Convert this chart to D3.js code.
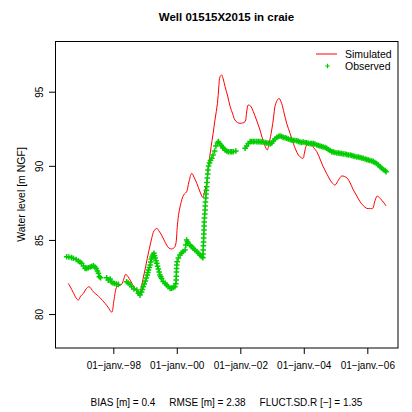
<!DOCTYPE html>
<html>
<head>
<meta charset="utf-8">
<script src="https://cdn.jsdelivr.net/npm/d3@7"></script>
<style>
  body { margin: 0; background: #fff; }
  svg { display: block; }
  text { font-family: "Liberation Sans", Arial, Helvetica, sans-serif; fill: #000; }
</style>
</head>
<body>
<div id="chart"></div>
<script>
// simulated head (decimal year, m NGF)
const simYear = [1996.58, 1996.65, 1996.73, 1996.83, 1996.90, 1996.97, 1997.06, 1997.14, 1997.24, 1997.37,
  1997.49, 1997.58, 1997.74, 1997.83, 1997.95, 1998.02, 1998.11, 1998.18, 1998.26, 1998.33,
  1998.39, 1998.46, 1998.53, 1998.60, 1998.68, 1998.76, 1998.82, 1998.88, 1998.94, 1999.01,
  1999.07, 1999.14, 1999.21, 1999.28, 1999.37, 1999.44, 1999.52, 1999.60, 1999.68, 1999.75,
  1999.84, 1999.94, 2000.02, 2000.07, 2000.19, 2000.24, 2000.31, 2000.38, 2000.47, 2000.54,
  2000.63, 2000.72, 2000.82, 2000.87, 2000.94, 2001.00, 2001.08, 2001.14, 2001.20, 2001.28,
  2001.32, 2001.36, 2001.41, 2001.46, 2001.52, 2001.60, 2001.68, 2001.76, 2001.83, 2001.91,
  2001.99, 2002.07, 2002.15, 2002.20, 2002.25, 2002.32, 2002.41, 2002.51, 2002.62, 2002.71,
  2002.81, 2002.85, 2002.91, 2002.99, 2003.05, 2003.09, 2003.16, 2003.22, 2003.30, 2003.38,
  2003.46, 2003.57, 2003.67, 2003.75, 2003.83, 2003.91, 2003.98, 2004.02, 2004.09, 2004.17,
  2004.25, 2004.32, 2004.41, 2004.51, 2004.61, 2004.72, 2004.83, 2004.91, 2004.98, 2005.09,
  2005.19, 2005.28, 2005.37, 2005.46, 2005.56, 2005.67, 2005.77, 2005.87, 2005.98, 2006.08,
  2006.17, 2006.23, 2006.31, 2006.38, 2006.45, 2006.53, 2006.59];
const simLevel = [82.07, 81.82, 81.48, 81.08, 80.94, 81.21, 81.40, 81.69, 81.84, 81.50,
  81.28, 81.10, 80.72, 80.47, 80.13, 80.94, 81.84, 81.92, 82.00, 82.36,
  82.68, 82.53, 82.29, 82.02, 81.73, 81.48, 81.28, 81.75, 82.41, 83.10,
  83.76, 84.45, 85.11, 85.60, 85.78, 85.60, 85.33, 84.99, 84.66, 84.45,
  84.39, 84.54, 86.01, 86.88, 87.92, 88.10, 88.25, 88.91, 89.49, 89.24,
  88.82, 88.30, 87.87, 88.23, 88.82, 90.05, 91.29, 92.15, 93.09, 94.22,
  95.25, 96.01, 96.13, 95.86, 95.34, 94.71, 93.99, 93.50, 93.09, 92.92,
  92.87, 92.89, 92.98, 93.63, 94.10, 94.04, 93.65, 93.09, 92.42, 91.74,
  91.18, 91.07, 91.54, 92.42, 93.29, 93.99, 94.41, 94.55, 94.22, 93.56,
  92.87, 92.18, 91.52, 91.07, 90.73, 90.56, 90.51, 90.86, 91.40, 91.47,
  91.40, 91.20, 90.95, 90.46, 89.94, 89.48, 89.04, 88.81, 88.70, 89.04,
  89.31, 89.28, 89.16, 88.84, 88.37, 87.96, 87.58, 87.32, 87.13, 87.12,
  87.13, 87.56, 87.96, 87.86, 87.69, 87.49, 87.29];

// observed head (decimal year, m NGF)
const obsYear = [1996.53, 1996.60, 1996.68, 1996.74, 1996.83, 1996.90, 1996.95, 1997.00, 1997.06, 1997.11,
  1997.16, 1997.21, 1997.27, 1997.32, 1997.37, 1997.42, 1997.46, 1997.50, 1997.53, 1997.56,
  1997.60, 1997.79, 1997.84, 1997.90, 1997.94, 1997.99, 1998.04, 1998.10, 1998.16,
  1998.42, 1998.47, 1998.53, 1998.58, 1998.65, 1998.74, 1998.79, 1998.84, 1998.89, 1998.915,
  1998.94, 1998.975, 1999.01, 1999.04, 1999.07, 1999.09, 1999.11, 1999.135, 1999.16, 1999.18,
  1999.20, 1999.22, 1999.24, 1999.28, 1999.30, 1999.32, 1999.345, 1999.37, 1999.395, 1999.42,
  1999.445, 1999.47, 1999.495, 1999.52, 1999.57, 1999.63, 1999.68, 1999.73, 1999.79, 1999.84,
  1999.89, 1999.94, 1999.97, 1999.98, 1999.985, 1999.99, 1999.995, 2000.00, 2000.01, 2000.05,
  2000.10, 2000.15, 2000.20, 2000.26, 2000.285, 2000.31, 2000.335, 2000.36, 2000.42, 2000.47,
  2000.52, 2000.57, 2000.63, 2000.68, 2000.73, 2000.78, 2000.82, 2000.825, 2000.83, 2000.835,
  2000.84, 2000.845, 2000.85, 2000.855, 2000.86, 2000.865, 2000.87, 2000.88, 2000.89, 2000.895,
  2000.90, 2000.91, 2000.92, 2000.93, 2000.94, 2000.95, 2000.96, 2000.97, 2000.98, 2001.00,
  2001.03, 2001.06, 2001.10, 2001.14, 2001.19, 2001.23, 2001.28, 2001.31, 2001.35, 2001.40,
  2001.44, 2001.46, 2001.52, 2001.57, 2001.62, 2001.68, 2001.73, 2001.78, 2001.86,
  2002.15, 2002.20, 2002.25, 2002.31, 2002.36, 2002.41, 2002.46, 2002.52, 2002.57, 2002.62,
  2002.67, 2002.72, 2002.78, 2002.83, 2002.88, 2002.94, 2002.99, 2003.04, 2003.09, 2003.15,
  2003.20, 2003.25, 2003.30, 2003.35, 2003.41, 2003.46, 2003.51, 2003.57, 2003.62, 2003.67,
  2003.72, 2003.78, 2003.83, 2003.88, 2003.93, 2003.98, 2004.04, 2004.09, 2004.14, 2004.20,
  2004.25, 2004.30, 2004.35, 2004.41, 2004.46, 2004.51, 2004.56, 2004.61, 2004.67, 2004.72,
  2004.77, 2004.83, 2004.88, 2004.93, 2004.98, 2005.04, 2005.09, 2005.14, 2005.19, 2005.24,
  2005.30, 2005.35, 2005.40, 2005.46, 2005.51, 2005.56, 2005.61, 2005.67, 2005.72, 2005.77,
  2005.82, 2005.87, 2005.93, 2005.98, 2006.03, 2006.08, 2006.14, 2006.19, 2006.24, 2006.29,
  2006.35, 2006.40, 2006.45, 2006.50, 2006.56, 2006.59];
const obsLevel = [83.87, 83.85, 83.81, 83.76, 83.68, 83.58, 83.51, 83.42, 83.24, 83.08,
  83.08, 83.12, 83.17, 83.21, 83.26, 83.17, 83.08, 82.90, 82.75, 82.52,
  82.45, 82.45, 82.29, 82.36, 82.16, 82.09, 82.06, 82.02, 82.00,
  82.18, 82.09, 81.99, 81.84, 81.69, 81.62, 81.40, 81.28, 81.48, 81.66,
  81.84, 82.03, 82.23, 82.43, 82.63, 82.80, 82.97, 83.14, 83.31, 83.51,
  83.71, 83.85, 83.98, 84.10, 83.94, 83.78, 83.60, 83.42, 83.23, 83.04,
  82.84, 82.63, 82.51, 82.40, 82.19, 82.07, 81.96, 81.86, 81.73, 81.75,
  81.79, 81.84, 82.05, 82.29, 82.55, 82.83, 83.07, 83.31, 83.53, 83.78,
  83.98, 84.12, 84.22, 84.32, 84.65, 84.99, 84.88, 84.77, 84.62, 84.55,
  84.43, 84.32, 84.22, 84.10, 83.98, 83.88, 83.80, 84.05, 84.32, 84.60,
  84.86, 85.13, 85.40, 85.67, 85.94, 86.21, 86.48, 86.75, 87.02, 87.29,
  87.56, 87.83, 88.10, 88.35, 88.59, 88.88, 89.18, 89.45, 89.72, 89.99,
  90.19, 90.36, 90.51, 90.73, 91.00, 91.34, 91.54, 91.63, 91.51, 91.37,
  91.27, 91.18, 91.07, 91.00, 90.95, 90.95, 90.95, 90.95, 91.00,
  91.18, 91.34, 91.50, 91.63, 91.64, 91.63, 91.64, 91.63, 91.63, 91.63,
  91.61, 91.61, 91.57, 91.54, 91.52, 91.47, 91.54, 91.67, 91.81, 91.91,
  91.98, 92.01, 91.98, 91.92, 91.89, 91.86, 91.81, 91.77, 91.74, 91.71,
  91.71, 91.69, 91.65, 91.61, 91.57, 91.61, 91.57, 91.56, 91.52, 91.50,
  91.50, 91.50, 91.47, 91.40, 91.37, 91.34, 91.30, 91.27, 91.24, 91.18,
  91.10, 91.03, 90.95, 90.93, 90.90, 90.86, 90.86, 90.84, 90.83, 90.80,
  90.80, 90.76, 90.73, 90.73, 90.70, 90.66, 90.63, 90.59, 90.59, 90.56,
  90.53, 90.51, 90.46, 90.43, 90.39, 90.36, 90.32, 90.28, 90.22, 90.16,
  90.05, 89.94, 89.85, 89.75, 89.68, 89.60];

// axis limits and labels
const xLimits = [1996.164, 2006.967];
const yLimits = [77.71, 98.42];
const yTicks = [80, 85, 90, 95];
const titleText = "Well 01515X2015 in craie";
const yTitle = "Water level [m NGF]";
const legendLabels = ["Simulated", "Observed"];
const scoreText = "BIAS [m] = 0.4     RMSE [m] = 2.38     FLUCT.SD.R [\u2212] = 1.35";

// decimal year -> Date
function toDate(t) {
  const y = Math.floor(t);
  const a = new Date(y, 0, 1), b = new Date(y + 1, 0, 1);
  return new Date(a.getTime() + (t - y) * (b - a));
}

const margin = {top: 41, right: 14, bottom: 64, left: 55},
  width = 412 - margin.left - margin.right,
  height = 412 - margin.top - margin.bottom;

const svg = d3.select("#chart")
  .append("svg")
    .attr("width", 412)
    .attr("height", 412);

const g = svg.append("g")
  .attr("transform", "translate(" + margin.left + "," + margin.top + ")");

const x = d3.scaleTime()
  .domain(xLimits.map(toDate))
  .range([0, width]);

const y = d3.scaleLinear()
  .domain(yLimits)
  .range([height, 0]);

// x axis
const fmtYear = d3.timeFormat("%y");
const xAxis = g.append("g")
  .attr("transform", "translate(0," + height + ")")
  .call(d3.axisBottom(x)
    .ticks(d3.timeYear.every(2))
    .tickSize(6)
    .tickFormat(d => "01\u2212janv.\u2212" + fmtYear(d)));
xAxis.select(".domain").remove();
xAxis.selectAll(".tick line").attr("stroke", "#000");
xAxis.selectAll(".tick text")
  .attr("y", 14)
  .attr("dy", "0.71em")
  .style("font-size", "10px")
  .style("font-family", "'Liberation Sans', Arial, sans-serif");

// y axis
const yAxis = g.append("g")
  .call(d3.axisLeft(y).tickValues(yTicks).tickSize(6));
yAxis.select(".domain").remove();
yAxis.selectAll(".tick line").attr("stroke", "#000");
yAxis.selectAll(".tick text")
  .attr("x", 0).attr("dy", null)
  .attr("transform", "translate(-16,0) rotate(-90)")
  .attr("text-anchor", "middle")
  .attr("dominant-baseline", "central")
  .style("font-size", "10px")
  .style("font-family", "'Liberation Sans', Arial, sans-serif");

// box
g.append("rect")
  .attr("x", 0.5).attr("y", 0.5)
  .attr("width", width - 0.5).attr("height", height - 0.5)
  .attr("fill", "none")
  .attr("stroke", "#000")
  .attr("stroke-width", 1);

// simulated line
const sim = simYear.map((t, i) => ({date: toDate(t), value: simLevel[i]}));
g.append("path")
  .datum(sim)
  .attr("fill", "none")
  .attr("stroke", "#ff0000")
  .attr("stroke-width", 1)
  .attr("d", d3.line()
    .curve(d3.curveCatmullRom)
    .x(d => x(d.date))
    .y(d => y(d.value)));

// observed points as "+"
const obs = obsYear.map((t, i) => ({date: toDate(t), value: obsLevel[i]}));
const plus = "M-2.8,0H2.8M0,-2.8V2.8";
g.append("g")
  .selectAll("path")
  .data(obs)
  .join("path")
    .attr("transform", d => "translate(" + x(d.date) + "," + y(d.value) + ")")
    .attr("d", plus)
    .attr("stroke", "#00cd00")
    .attr("stroke-width", 1.5)
    .attr("fill", "none");

// legend
const leg = svg.append("g").attr("transform", "translate(316,54)");
leg.append("line")
  .attr("x1", 0).attr("x2", 21).attr("y1", 0).attr("y2", 0)
  .attr("stroke", "#ff0000").attr("stroke-width", 1);
leg.append("path")
  .attr("transform", "translate(11.5,12)")
  .attr("d", "M-2.2,0H2.2M0,-2.2V2.2")
  .attr("stroke", "#00cd00").attr("stroke-width", 1.2);
leg.selectAll("text.lab")
  .data(legendLabels)
  .join("text")
    .attr("class", "lab")
    .attr("x", 29)
    .attr("y", (d, i) => i * 12.5)
    .attr("dy", "0.35em")
    .style("font-size", "10.5px")
    .text(d => d);

// title
svg.append("text")
  .attr("x", margin.left + width / 2)
  .attr("y", 21)
  .attr("text-anchor", "middle")
  .style("font-size", "11.5px")
  .style("font-weight", "bold")
  .text(titleText);

// y title
svg.append("text")
  .attr("transform", "translate(21," + (margin.top + height / 2) + ") rotate(-90)")
  .attr("text-anchor", "middle")
  .attr("dominant-baseline", "central")
  .style("font-size", "10.5px")
  .text(yTitle);

// fit scores
svg.append("text")
  .attr("x", margin.left + width / 2)
  .attr("y", 406)
  .attr("text-anchor", "middle")
  .style("font-size", "10px")
  .style("white-space", "pre")
  .text(scoreText);
</script>
</body>
</html>
